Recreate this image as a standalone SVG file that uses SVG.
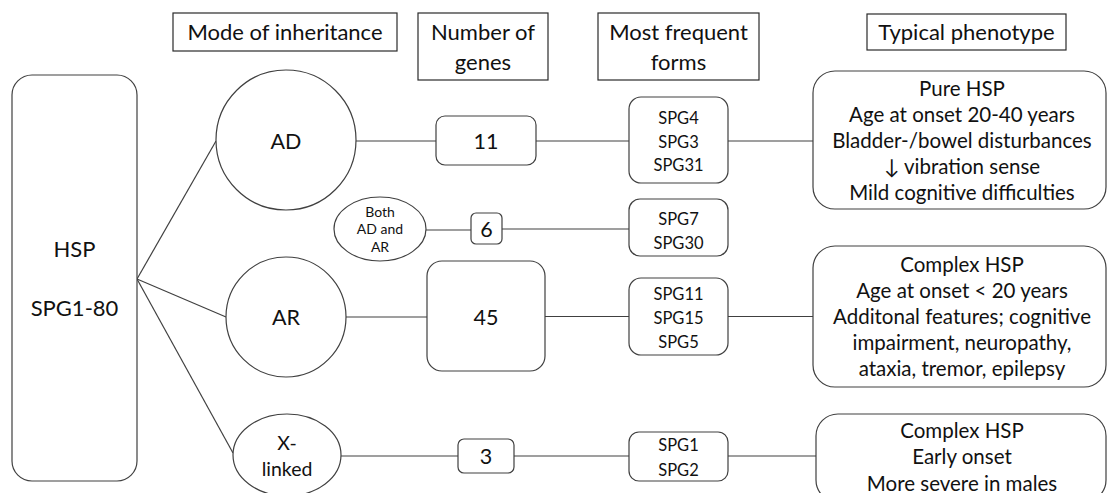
<svg xmlns="http://www.w3.org/2000/svg" width="1108" height="493" viewBox="0 0 1108 493">
<style>
text{font-family:Lato,"Liberation Sans",sans-serif;fill:#111;text-anchor:middle}
.hdr{fill:#fff;stroke:#2a2a2a;stroke-width:1.2}
.shape{fill:#fff;stroke:#404040;stroke-width:1.2}
.conn line{stroke:#404040;stroke-width:1.2}
.h{font-size:22px}
.ph{font-size:20.5px}
.xl{font-size:19.5px}
.spg{font-size:16.5px}
.num{font-size:21.5px}
.big{font-size:22px}
.sm{font-size:14px}
</style>
<rect width="1108" height="493" fill="#fff"/>
<g id="connectors" class="conn">
<line x1="137" y1="279" x2="216" y2="141"/>
<line x1="137" y1="279" x2="226" y2="317"/>
<line x1="137" y1="279" x2="233" y2="453"/>
<line x1="356" y1="141" x2="436" y2="141"/>
<line x1="536" y1="141" x2="629" y2="141"/>
<line x1="728" y1="141" x2="813" y2="141"/>
<line x1="426" y1="230" x2="471" y2="230"/>
<line x1="502" y1="229" x2="629" y2="229"/>
<line x1="346" y1="317" x2="427" y2="317"/>
<line x1="545" y1="316.5" x2="629" y2="316.5"/>
<line x1="728" y1="316.5" x2="813" y2="316.5"/>
<line x1="341" y1="456" x2="458" y2="456"/>
<line x1="514" y1="456" x2="629" y2="456"/>
<line x1="728" y1="456" x2="816" y2="456"/>
</g>
<g id="hdr-mode"><rect class="hdr" x="173" y="13" width="224" height="38"/><text class="h" x="285" y="40">Mode of inheritance</text></g>
<g id="hdr-number"><rect class="hdr" x="418" y="13" width="130" height="67"/><text class="h" x="483" y="40">Number of</text><text class="h" x="483" y="70">genes</text></g>
<g id="hdr-forms"><rect class="hdr" x="598" y="13" width="161" height="67"/><text class="h" x="678.5" y="40">Most frequent</text><text class="h" x="678.5" y="70">forms</text></g>
<g id="hdr-phenotype"><rect class="hdr" x="867" y="14" width="199" height="36"/><text class="h" x="966.5" y="40">Typical phenotype</text></g>
<g id="hsp"><rect class="shape" x="12" y="75" width="125" height="406" rx="20"/><text class="big" x="74.5" y="257">HSP</text><text class="big" x="74.5" y="316">SPG1-80</text></g>
<g id="ad"><circle class="shape" cx="286" cy="140" r="70"/><text class="num" x="286" y="148.5">AD</text></g>
<g id="both"><ellipse class="shape" cx="380" cy="229" rx="46" ry="32"/><text class="sm" x="380" y="217">Both</text><text class="sm" x="380" y="234">AD and</text><text class="sm" x="380" y="251.5">AR</text></g>
<g id="ar"><circle class="shape" cx="286" cy="317" r="60"/><text class="num" x="286" y="324.5">AR</text></g>
<g id="xlinked"><ellipse class="shape" cx="287" cy="455" rx="54" ry="41"/><text class="xl" x="287" y="450">X-</text><text class="xl" x="287" y="476">linked</text></g>
<g id="n11"><rect class="shape" x="436" y="116" width="100" height="49" rx="9"/><text class="num" x="486" y="148.5">11</text></g>
<g id="n6"><rect class="shape" x="471" y="213" width="31" height="31" rx="5"/><text class="num" x="486.5" y="236.5">6</text></g>
<g id="n45"><rect class="shape" x="427" y="261" width="118" height="110" rx="15"/><text class="num" x="486" y="324.5">45</text></g>
<g id="n3"><rect class="shape" x="458" y="439" width="56" height="34" rx="6"/><text class="num" x="486" y="463.5">3</text></g>
<g id="forms-ad"><rect class="shape" x="629" y="97" width="99" height="86" rx="12"/><text class="spg" x="678.5" y="124">SPG4</text><text class="spg" x="678.5" y="148">SPG3</text><text class="spg" x="678.5" y="170.5">SPG31</text></g>
<g id="forms-both"><rect class="shape" x="629" y="199" width="99" height="57" rx="11"/><text class="spg" x="678.5" y="225">SPG7</text><text class="spg" x="678.5" y="248.5">SPG30</text></g>
<g id="forms-ar"><rect class="shape" x="629" y="278" width="99" height="77" rx="12"/><text class="spg" x="678.5" y="300">SPG11</text><text class="spg" x="678.5" y="324">SPG15</text><text class="spg" x="678.5" y="348">SPG5</text></g>
<g id="forms-x"><rect class="shape" x="629" y="432" width="99" height="49" rx="10"/><text class="spg" x="678.5" y="451">SPG1</text><text class="spg" x="678.5" y="476">SPG2</text></g>
<g id="pheno-pure"><rect class="shape" x="813" y="71" width="293" height="138" rx="22"/>
<text class="ph" x="962" y="95.5">Pure HSP</text>
<text class="ph" x="962" y="121.5">Age at onset 20-40 years</text>
<text class="ph" x="962" y="147.5">Bladder-/bowel disturbances</text>
<text class="ph" x="962" y="173.5">↓ vibration sense</text>
<text class="ph" x="962" y="199.5">Mild cognitive difficulties</text></g>
<g id="pheno-complex"><rect class="shape" x="813" y="246" width="293" height="141" rx="22"/>
<text class="ph" x="962" y="271.5">Complex HSP</text>
<text class="ph" x="962" y="297.5">Age at onset &lt; 20 years</text>
<text class="ph" x="962" y="323.5">Additonal features; cognitive</text>
<text class="ph" x="962" y="349.5">impairment, neuropathy,</text>
<text class="ph" x="962" y="375.5">ataxia, tremor, epilepsy</text></g>
<g id="pheno-x"><rect class="shape" x="816" y="414" width="290" height="88" rx="22"/>
<text class="ph" x="962" y="437.5">Complex HSP</text>
<text class="ph" x="962" y="464">Early onset</text>
<text class="ph" x="962" y="490.5">More severe in males</text></g>
</svg>
